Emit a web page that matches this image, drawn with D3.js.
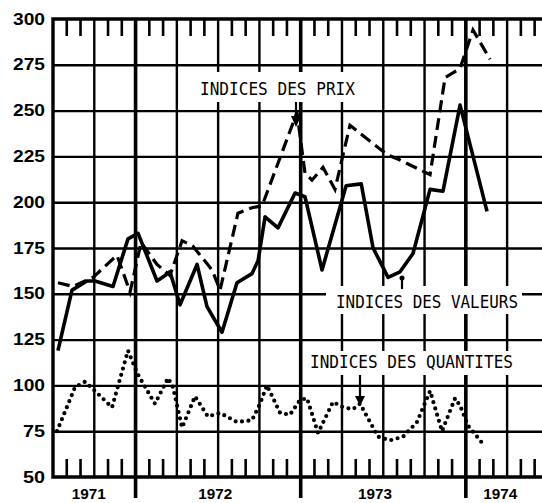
<!DOCTYPE html>
<html>
<head>
<meta charset="utf-8">
<script src="https://cdn.jsdelivr.net/npm/d3@7"></script>
<style>
  body { margin: 0; background: #fff; }
  svg { display: block; }
</style>
</head>
<body>
<div id="chart"></div>
<script>
// months counted from the left edge of the frame (mid 1970), 3-month grid
const yTicks = [50, 75, 100, 125, 150, 175, 200, 225, 250, 275, 300];
const yearLabels = ["1971", "1972", "1973", "1974"];
const yearLabelMonth = [2.6, 11.8, 23.4, 32.5];
const yearBreaks = [6, 18, 30];

// [month, index]
const valeurs = [[0.36,119],[1.38,152],[2.47,157],[3.05,157],[4.36,154],[5.45,180],[6.18,183],
  [7.56,157],[8.14,160],[8.5,162],[9.23,144],[10.47,166],[11.19,143],[12.28,129],[13.37,156],
  [14.46,161],[14.9,168],[15.41,192],[16.35,186],[17.59,205],[18.31,203],[19.55,163],[21.3,209],
  [22.4,210],[23.26,175],[24.35,159],[25.22,162],[26.16,172],[27.4,207],[28.34,206],[29.58,253],[31.54,195]];

const prix = [[0.36,156],[1.45,154],[2.91,159],[4.65,171],[5.6,151],[6.4,178],[7.56,166],[8.5,160],
  [9.38,179],[10.17,176],[11.56,163],[12.14,152],[13.44,194],[14.46,197],[15.19,198],[17.73,249],
  [18.31,216],[18.82,212],[19.62,219],[20.49,207],[21.58,242],[24.27,226],[25.22,223],[27.4,215],
  [28.49,268],[29.58,273],[30.52,294],[31.76,278]];

const quantites = [[0.29,75],[1.6,99],[2.33,102],[2.91,98],[4.29,88],[5.45,119],[6.1,107],[6.47,102],
  [7.41,90],[8.36,104],[8.72,99],[9.38,77],[10.32,94],[11.26,83],[12.14,85],[13.37,80],[14.46,81],
  [15.04,90],[15.55,100],[16.5,85],[17.22,84],[17.95,92],[18.46,93],[19.26,74],[20.35,91],[21.08,88],
  [21.8,87],[22.31,90],[23.62,72],[24.49,70],[25.44,72],[26.45,80],[27.4,97],[28.27,75],[29.22,93],
  [29.58,89],[30.16,78],[31.25,68]];

const W = 542, H = 503;
const svg = d3.select("#chart").append("svg")
  .attr("width", W).attr("height", H)
  .style("font-family", "'Liberation Sans', Arial, sans-serif");

const x = d3.scaleLinear().domain([0, 36]).range([53, 548.4]);
const y = d3.scaleLinear().domain([50, 300]).range([477, 19]);

const months = d3.range(1, 36);
const gridMonths = months.filter(m => m % 3 === 0 && !yearBreaks.includes(m));
const tickMonths = months.filter(m => m % 3 !== 0);

// horizontal grid
svg.append("g")
  .attr("transform", "translate(" + x(0) + ",0)")
  .call(d3.axisLeft(y).tickValues(yTicks.slice(1, -1)).tickSize(-(x(36) - x(0))).tickFormat(""))
  .call(g => g.select(".domain").remove())
  .selectAll("line").attr("stroke", "#000").attr("stroke-width", 2.4);

// vertical grid
svg.append("g")
  .selectAll("line").data(gridMonths).enter().append("line")
  .attr("x1", d => x(d)).attr("x2", d => x(d))
  .attr("y1", y(300)).attr("y2", y(50))
  .attr("stroke", "#000").attr("stroke-width", 2.4);

// monthly ticks, top and bottom
const ticks = svg.append("g").attr("stroke", "#000").attr("stroke-width", 2.6);
ticks.selectAll(".tt").data(tickMonths).enter().append("line")
  .attr("x1", d => x(d)).attr("x2", d => x(d))
  .attr("y1", y(300)).attr("y2", y(300) + 17);
ticks.selectAll(".tb").data(tickMonths).enter().append("line")
  .attr("x1", d => x(d)).attr("x2", d => x(d))
  .attr("y1", y(50)).attr("y2", y(50) - 18);

// year separators (run below the axis)
svg.append("g")
  .selectAll("line").data(yearBreaks).enter().append("line")
  .attr("x1", d => x(d)).attr("x2", d => x(d))
  .attr("y1", y(300)).attr("y2", y(50) + 21)
  .attr("stroke", "#000").attr("stroke-width", 3.6);

// frame
svg.append("path")
  .attr("d", "M" + x(36) + "," + y(300) + "H" + x(0) + "V" + y(50) + "H" + x(36))
  .attr("fill", "none").attr("stroke", "#000").attr("stroke-width", 3.4);

// y labels
svg.append("g")
  .attr("transform", "translate(" + x(0) + ",0)")
  .call(d3.axisLeft(y).tickValues(yTicks).tickSize(0).tickPadding(8))
  .call(g => g.select(".domain").remove())
  .selectAll("text")
  .attr("font-size", 16).attr("font-weight", "bold").attr("fill", "#000")
  .attr("font-family", "'Liberation Sans', Arial, sans-serif")
  .attr("textLength", d => d >= 100 ? 32 : 22).attr("lengthAdjust", "spacingAndGlyphs");

// year labels
svg.append("g")
  .selectAll("text").data(yearLabels).enter().append("text")
  .attr("x", (d, i) => x(yearLabelMonth[i]))
  .attr("y", 499)
  .attr("text-anchor", "middle")
  .attr("font-size", 15).attr("font-weight", "bold")
  .attr("textLength", 34).attr("lengthAdjust", "spacingAndGlyphs")
  .text(d => d);

// label boxes hide the grid behind the captions
const captions = [
  { text: "INDICES DES PRIX", x: 200, y: 95, w: 155, box: [193, 72, 170, 30] },
  { text: "INDICES DES VALEURS", x: 336, y: 308, w: 182, box: [326, 286, 196, 28] },
  { text: "INDICES DES QUANTITES", x: 310, y: 368, w: 203, box: [303, 351, 216, 24] }
];
svg.append("g").selectAll("rect").data(captions).enter().append("rect")
  .attr("x", d => d.box[0]).attr("y", d => d.box[1])
  .attr("width", d => d.box[2]).attr("height", d => d.box[3])
  .attr("fill", "#fff");
svg.append("g").selectAll("text").data(captions).enter().append("text")
  .attr("x", d => d.x).attr("y", d => d.y)
  .attr("font-family", "'DejaVu Sans Mono', monospace")
  .attr("font-size", 17)
  .attr("textLength", d => d.w).attr("lengthAdjust", "spacingAndGlyphs")
  .text(d => d.text);

// series
const line = d3.line().x(d => x(d[0])).y(d => y(d[1]));

svg.append("path").datum(valeurs)
  .attr("d", line).attr("fill", "none")
  .attr("stroke", "#000").attr("stroke-width", 3.6)
  .attr("stroke-linejoin", "round");

svg.append("path").datum(prix)
  .attr("d", line).attr("fill", "none")
  .attr("stroke", "#000").attr("stroke-width", 3.2)
  .attr("stroke-dasharray", "12,6");

svg.append("path").datum(quantites)
  .attr("d", line).attr("fill", "none")
  .attr("stroke", "#000").attr("stroke-width", 4.2)
  .attr("stroke-linecap", "round")
  .attr("stroke-dasharray", "0,6.5");

// pointers from captions
const ptr = svg.append("g").attr("stroke", "#000").attr("stroke-width", 2.2);
ptr.append("line").attr("x1", 296).attr("x2", 296).attr("y1", 102).attr("y2", 122);
svg.append("path").attr("d", "M291,116L301,116L296,127Z").attr("fill", "#000");
ptr.append("line").attr("x1", 402).attr("x2", 402).attr("y1", 278).attr("y2", 289);
svg.append("circle").attr("cx", 402).attr("cy", 278).attr("r", 2.5).attr("fill", "#000");
ptr.append("line").attr("x1", 360).attr("x2", 360).attr("y1", 375).attr("y2", 400);
svg.append("path").attr("d", "M355,396L365,396L360,406Z").attr("fill", "#000");
</script>
</body>
</html>
